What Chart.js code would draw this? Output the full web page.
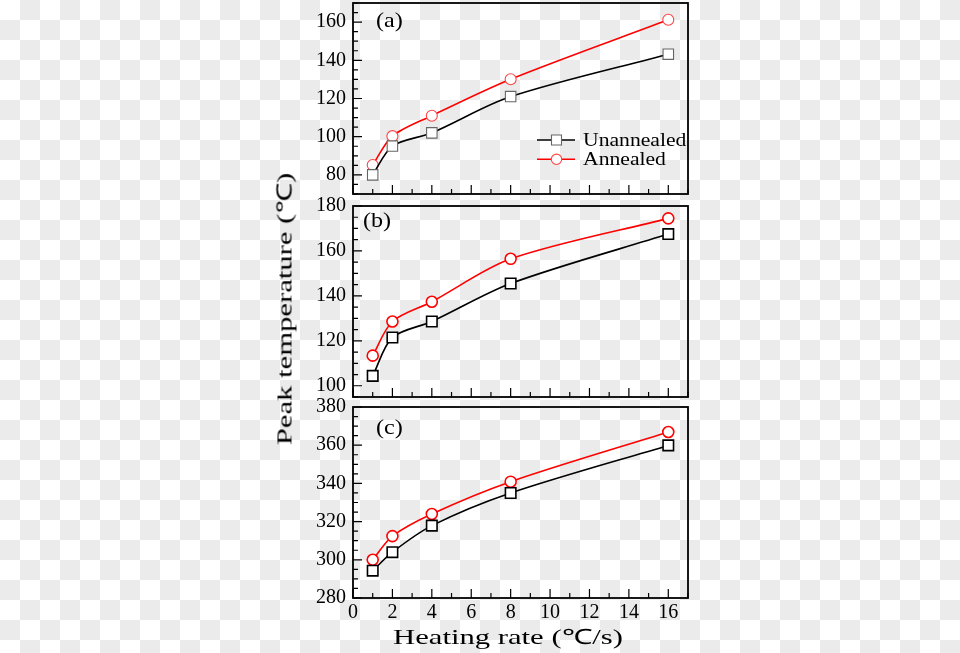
<!DOCTYPE html>
<html>
<head>
<meta charset="utf-8">
<script src="https://cdn.jsdelivr.net/npm/chart.js@4/dist/chart.umd.min.js"></script>
<style>
  html, body { margin: 0; padding: 0; }
  body {
    width: 960px; height: 653px; position: relative; overflow: hidden;
    background-color: #fff;
    background-image: conic-gradient(#ebebeb 25%, transparent 0 50%, #ebebeb 0 75%, transparent 0);
    background-size: 40px 40px;
    font-family: "Liberation Serif", serif;
  }
  canvas { position: absolute; left: 0; top: 0; }
  .title { position: absolute; color: #000; white-space: nowrap; font-size: 21px; line-height: 1; }
  #xtitle { left: 508px; top: 637px; transform: translate(-50%, -50%) scaleX(1.46); }
  #ytitle { left: 285px; top: 309px; transform: translate(-50%, -50%) rotate(-90deg) scaleX(1.46); }
</style>
</head>
<body>
<canvas id="chartA" width="960" height="653"></canvas>
<canvas id="chartB" width="960" height="653"></canvas>
<canvas id="chartC" width="960" height="653"></canvas>
<div class="title" id="ytitle">Peak temperature (℃)</div>
<div class="title" id="xtitle">Heating rate (℃/s)</div>
<script>
// data
const heatingRates = [1, 2, 4, 8, 16];
const seriesNames = ["Unannealed", "Annealed"];
const panelLabels = ["(a)", "(b)", "(c)"];

const unannealedA = [80, 95.1, 102, 121, 143.2];
const annealedA = [85.2, 100.3, 111, 130.1, 161.2];
const unannealedB = [104.4, 121.5, 128.6, 145.5, 167.5];
const annealedB = [113.4, 128.6, 137.4, 156.5, 174.5];
const unannealedC = [294.3, 304, 317.9, 335, 359.9];
const annealedC = [300, 312.4, 324, 340.9, 366.9];

const xTicks = [0, 2, 4, 6, 8, 10, 12, 14, 16];
const yTicksA = [80, 100, 120, 140, 160];
const yTicksB = [100, 120, 140, 160, 180];
const yTicksC = [280, 300, 320, 340, 360, 380];

// layout
const plotLeft = 353, plotRight = 688;
const yAxisW = 45;
const tickFont = { family: "Liberation Serif", size: 20 };

function toPoints(ys) {
  return heatingRates.map((x, i) => ({ x: x, y: ys[i] }));
}

// frame + inward ticks + panel label
const framePlugin = {
  id: "frame",
  afterDraw(chart, args, opts) {
    const { ctx, chartArea: { left, right, top, bottom }, scales: { x, y } } = chart;
    ctx.save();
    ctx.strokeStyle = "#000";
    ctx.lineWidth = 1.2;
    ctx.beginPath();
    for (let v = x.min; v <= x.max; v += 1) {
      const px = x.getPixelForValue(v);
      const len = v % 2 === 0 ? 9 : 5;
      ctx.moveTo(px, bottom);
      ctx.lineTo(px, bottom - len);
    }
    for (let v = Math.ceil(y.min / 5) * 5; v <= y.max; v += 5) {
      const py = y.getPixelForValue(v);
      const len = v % 20 === 0 ? 9 : 5;
      ctx.moveTo(left, py);
      ctx.lineTo(left + len, py);
    }
    ctx.stroke();
    ctx.lineWidth = 1.8;
    ctx.strokeRect(left, top, right - left, bottom - top);
    ctx.fillStyle = "#000";
    ctx.font = "21px 'Liberation Serif'";
    ctx.textBaseline = "middle";
    ctx.translate(opts.lx, opts.ly);
    ctx.scale(1.15, 1);
    ctx.fillText(opts.label, 0, 0);
    ctx.restore();
  }
};

// legend inside panel (a)
const legendPlugin = {
  id: "innerLegend",
  afterDraw(chart, args, opts) {
    if (!opts.show) return;
    const ctx = chart.ctx;
    ctx.save();
    chart.data.datasets.forEach((ds, i) => {
      const yy = 140 + i * 19.3;
      ctx.strokeStyle = ds.borderColor;
      ctx.lineWidth = 1.5;
      ctx.beginPath();
      ctx.moveTo(537, yy);
      ctx.lineTo(575, yy);
      ctx.stroke();
      ctx.fillStyle = "#fff";
      ctx.strokeStyle = ds.pointBorderColor;
      ctx.lineWidth = 1.1;
      ctx.beginPath();
      if (ds.pointStyle === "rect") ctx.rect(551.5, yy - 5, 10, 10);
      else ctx.arc(556.5, yy, 5.2, 0, Math.PI * 2);
      ctx.fill();
      ctx.stroke();
      ctx.save();
      ctx.fillStyle = "#000";
      ctx.font = "18.5px 'Liberation Serif'";
      ctx.textBaseline = "middle";
      ctx.translate(583, yy + 1);
      ctx.scale(1.17, 1);
      ctx.fillText(ds.label, 0, 0);
      ctx.restore();
    });
    ctx.restore();
  }
};

function makePanel(id, p) {
  const ds = (name, ys, color, ptColor, style, r) => ({
    label: name,
    data: toPoints(ys),
    borderColor: color,
    borderWidth: 1.6,
    pointStyle: style,
    pointRadius: r,
    pointBorderColor: ptColor,
    pointBackgroundColor: "#fff",
    pointBorderWidth: p.ptWidth,
    tension: 0.3,
    fill: false
  });
  return new Chart(document.getElementById(id), {
    type: "line",
    data: {
      datasets: [
        ds(seriesNames[0], p.un, "#000", p.sqColor, "rect", 7.4),
        ds(seriesNames[1], p.an, "#f00", p.ciColor, "circle", 5.5)
      ]
    },
    options: {
      responsive: false,
      animation: false,
      layout: {
        autoPadding: false,
        padding: { left: plotLeft - yAxisW, right: 960 - plotRight, top: p.top, bottom: 653 - p.bottom - p.xH }
      },
      plugins: {
        legend: { display: false },
        tooltip: { enabled: false },
        frame: { label: p.label, lx: p.lx, ly: p.ly },
        innerLegend: { show: !!p.legend }
      },
      scales: {
        x: {
          type: "linear", min: 0, max: 17,
          grid: { display: false, tickLength: 0 }, border: { display: false },
          afterBuildTicks: s => { s.ticks = xTicks.map(v => ({ value: v })); },
          afterFit: s => { s.height = p.xH; s.paddingLeft = 0; s.paddingRight = 0; },
          ticks: { display: p.xLabels, font: tickFont, color: "#000", padding: 3, maxRotation: 0 }
        },
        y: {
          type: "linear", min: p.min, max: p.max,
          grid: { display: false, tickLength: 0 }, border: { display: false },
          afterBuildTicks: s => { s.ticks = p.yTicks.map(v => ({ value: v })); },
          afterFit: s => { s.width = yAxisW; s.paddingTop = 0; s.paddingBottom = 0; },
          ticks: { font: tickFont, color: "#000", padding: 7 }
        }
      }
    },
    plugins: [framePlugin, legendPlugin]
  });
}

makePanel("chartA", {
  un: unannealedA, an: annealedA, min: 70, max: 170, yTicks: yTicksA,
  top: 3, bottom: 194, xH: 0, xLabels: false, legend: true,
  label: panelLabels[0], lx: 376, ly: 21,
  sqColor: "#666", ciColor: "#f44", ptWidth: 1.1
});
makePanel("chartB", {
  un: unannealedB, an: annealedB, min: 95, max: 180, yTicks: yTicksB,
  top: 206, bottom: 397, xH: 0, xLabels: false,
  label: panelLabels[1], lx: 363, ly: 221,
  sqColor: "#000", ciColor: "#f00", ptWidth: 1.6
});
makePanel("chartC", {
  un: unannealedC, an: annealedC, min: 280, max: 380, yTicks: yTicksC,
  top: 407, bottom: 598, xH: 28, xLabels: true,
  label: panelLabels[2], lx: 376, ly: 428,
  sqColor: "#000", ciColor: "#f00", ptWidth: 1.6
});
</script>
</body>
</html>
